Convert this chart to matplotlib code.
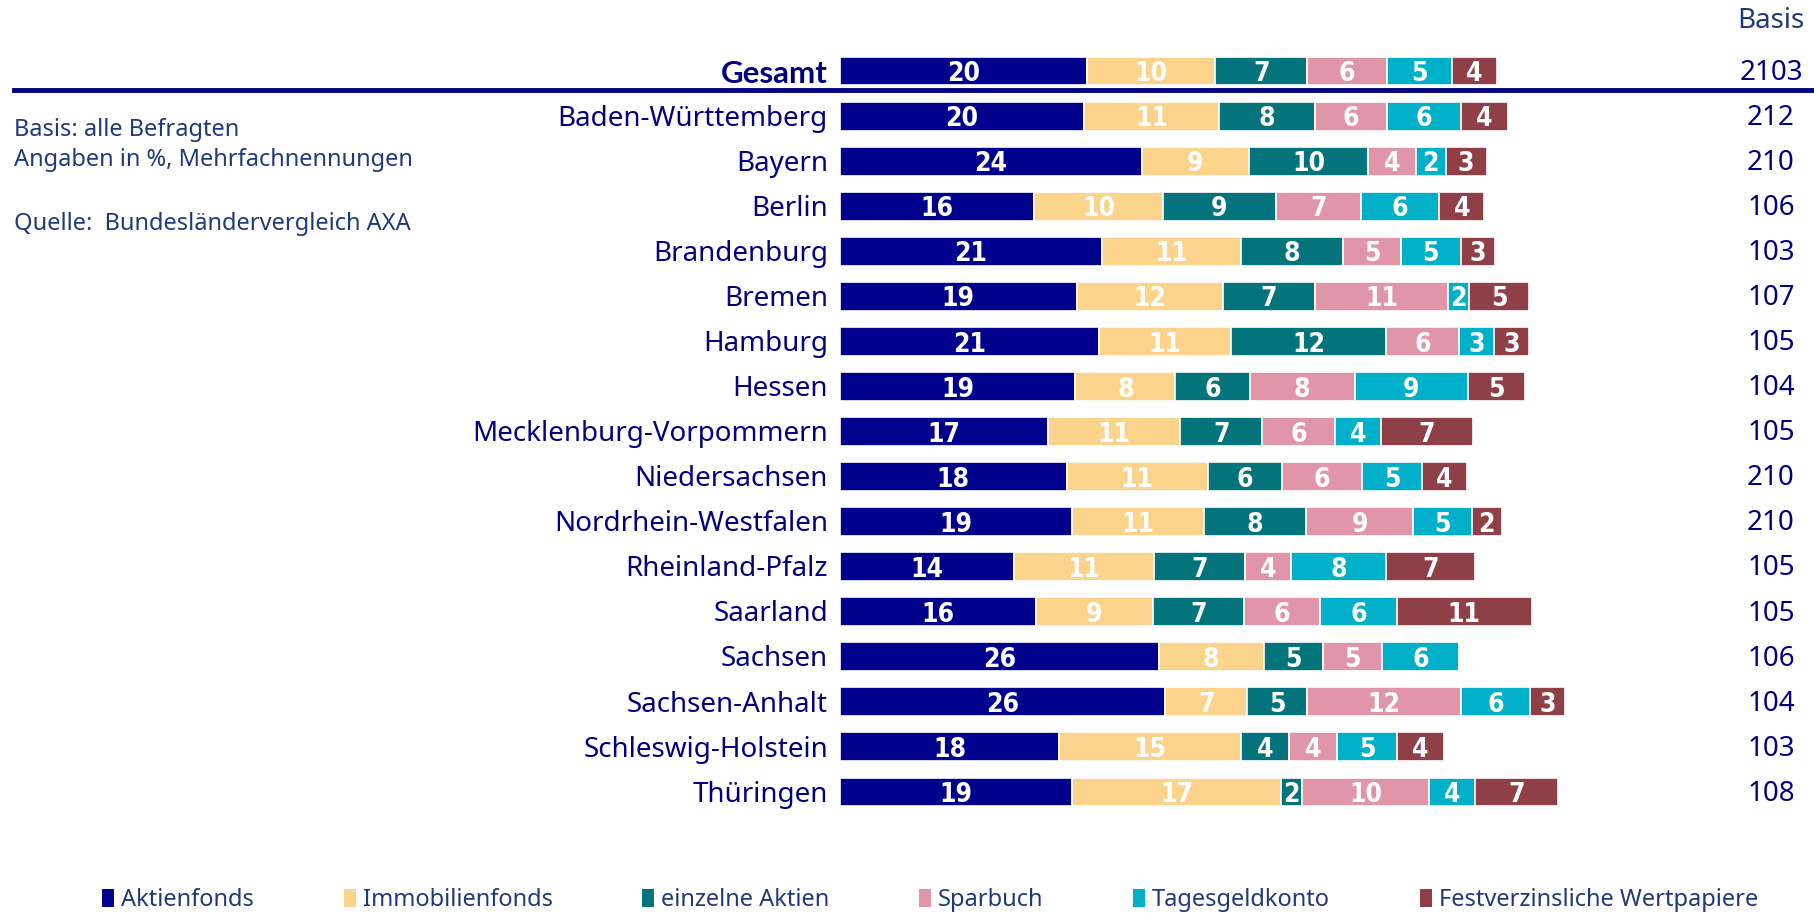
import numpy as np
import matplotlib
matplotlib.use('Agg')
import matplotlib.pyplot as plt
from matplotlib.patches import Patch
from matplotlib.lines import Line2D

states = ['Gesamt', 'Baden-Württemberg', 'Bayern', 'Berlin', 'Brandenburg', 'Bremen',
          'Hamburg', 'Hessen', 'Mecklenburg-Vorpommern', 'Niedersachsen',
          'Nordrhein-Westfalen', 'Rheinland-Pfalz', 'Saarland', 'Sachsen',
          'Sachsen-Anhalt', 'Schleswig-Holstein', 'Thüringen']
basis = [2103, 212, 210, 106, 103, 107, 105, 104, 105, 210, 210, 105, 105, 106, 104, 103, 108]

aktienfonds = [19.8, 19.6, 24.2, 15.6, 21.0, 19.0, 20.8, 18.9, 16.7, 18.2, 18.6, 14.0, 15.7, 25.6, 26.1, 17.6, 18.6]
immobilienfonds = [10.3, 10.8, 8.6, 10.3, 11.2, 11.7, 10.6, 8.0, 10.6, 11.3, 10.6, 11.2, 9.4, 8.4, 6.6, 14.6, 16.8]
einzelne_aktien = [7.4, 7.7, 9.6, 9.1, 8.2, 7.4, 12.4, 6.0, 6.6, 6.0, 8.2, 7.3, 7.3, 4.8, 4.8, 3.8, 1.7]
sparbuch = [6.4, 5.8, 3.8, 6.8, 4.6, 10.7, 5.9, 8.4, 5.8, 6.4, 8.6, 3.7, 6.1, 4.7, 12.3, 3.9, 10.2]
tagesgeld = [5.2, 5.9, 2.4, 6.3, 4.8, 1.7, 2.8, 9.1, 3.7, 4.8, 4.7, 7.6, 6.2, 6.2, 5.6, 4.8, 3.7]
festverz = [3.6, 3.8, 3.3, 3.6, 2.8, 4.8, 2.8, 4.6, 7.4, 3.6, 2.4, 7.2, 10.8, 0, 2.8, 3.8, 6.6]

series = ['Aktienfonds', 'Immobilienfonds', 'einzelne Aktien', 'Sparbuch',
          'Tagesgeldkonto', 'Festverzinsliche Wertpapiere']
colors = ['#00008c', '#fbd38a', '#03737c', '#e096a8', '#00b0c8', '#8f3f46']
navy = '#000080'
grey_blue = '#1f3a7a'

font = ['Noto Sans', 'DejaVu Sans']

fig = plt.figure(figsize=(18.15, 9.15), dpi=100)
ax = fig.add_axes([840 / 1815, 1 - 814.5 / 915, 975 / 1815, 766 / 915])

y = np.arange(len(states))
left = np.zeros(len(states))
data = [aktienfonds, immobilienfonds, einzelne_aktien, sparbuch, tagesgeld, festverz]
for vals, col in zip(data, colors):
    vals = np.array(vals)
    ax.barh(y, vals, left=left, height=0.64, color=col, edgecolor='white', linewidth=1.2)
    for yi, l, v in zip(y, left, vals):
        if v > 0:
            ax.text(l + v / 2, yi + 0.07, f'{v:.0f}', ha='center', va='center',
                    color='white', fontsize=19, fontweight='bold',
                    family=['Liberation Sans Narrow', 'DejaVu Sans'], fontstretch='condensed')
    left = left + vals

ax.set_xlim(0, 78.25)
ax.set_ylim(16.5, -0.5)
ax.set_yticks([])
ax.set_xticks([])
[s.set_visible(False) for s in ax.spines.values()]

# state names, right aligned in front of the bars
for yi, name in zip(y, states):
    if name == 'Gesamt':
        ax.text(-12 / 975, yi + 0.06, name, transform=ax.get_yaxis_transform(), ha='right',
                va='center', fontsize=22.5, color=navy, family=['Lato', 'DejaVu Sans'],
                fontweight='bold')
    else:
        ax.text(-12 / 975, yi + 0.06, name, transform=ax.get_yaxis_transform(), ha='right',
                va='center', fontsize=20, color=navy, family=font)

# Basis column
bx = (1771 - 840) / 975
for yi, b in zip(y, basis):
    ax.text(bx, yi + 0.04, str(b), transform=ax.get_yaxis_transform(), ha='center', va='center',
            fontsize=20, color=navy, family=font)
fig.text(1771 / 1815, 1 - 21 / 915, 'Basis', ha='center', va='center', fontsize=20,
         color=grey_blue, family=font)

# line under Gesamt
fig.add_artist(Line2D([14 / 1815, 1.0], [1 - 90 / 915, 1 - 90 / 915], color=navy, lw=3.5))

# notes
fig.text(14 / 1815, 1 - 129.5 / 915, 'Basis: alle Befragten', fontsize=17, color=grey_blue,
         family=font, va='center')
fig.text(14 / 1815, 1 - 160.5 / 915, 'Angaben in %, Mehrfachnennungen', fontsize=17,
         color=grey_blue, family=font, va='center')
fig.text(14 / 1815, 1 - 224.5 / 915, 'Quelle:  Bundesländervergleich AXA', fontsize=17,
         color=grey_blue, family=font, va='center')

handles = [Patch(facecolor=c, edgecolor='none') for c in colors]
fig.legend(handles, series, loc='center', bbox_to_anchor=(0.5125, 1 - 900 / 915), ncol=6,
           frameon=False, handlelength=0.5, handleheight=0.8, handletextpad=0.3,
           columnspacing=3.8, prop={'family': font, 'size': 17}, labelcolor=grey_blue)

fig.savefig('out.png', dpi=100)
